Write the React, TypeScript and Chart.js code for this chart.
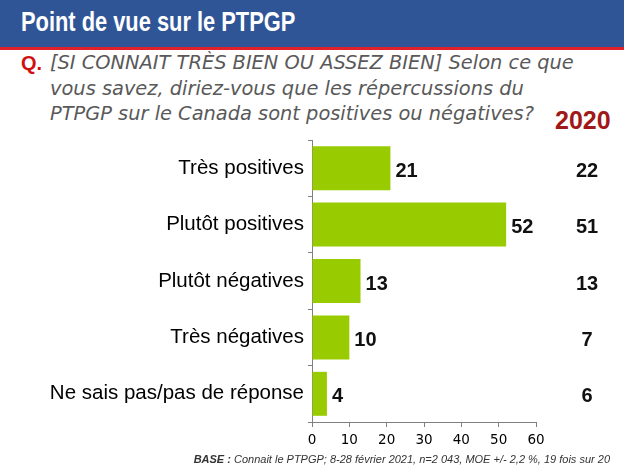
import React, { useEffect, useRef } from "react";
import { Chart, registerables } from "chart.js";

Chart.register(...registerables);

const categories = [
  "Très positives",
  "Plutôt positives",
  "Plutôt négatives",
  "Très négatives",
  "Ne sais pas/pas de réponse",
];
const values2021 = [21, 52, 13, 10, 4];
const values2020 = [22, 51, 13, 7, 6];
const xTicks = [0, 10, 20, 30, 40, 50, 60];

const titleText = "Point de vue sur le PTPGP";
const questionLines = [
  "[SI CONNAIT TRÈS BIEN OU ASSEZ BIEN] Selon ce que",
  "vous savez, diriez-vous que les répercussions du",
  "PTPGP sur le Canada sont positives ou négatives?",
];
const yearLabel = "2020";
const baseBold = "BASE :";
const baseText = " Connait le PTPGP; 8-28 février 2021, n=2 043, MOE +/- 2,2 %, 19 fois sur 20";

export default function App() {
  const canvasRef = useRef<HTMLCanvasElement | null>(null);

  useEffect(() => {
    document.body.style.margin = "0";
    const canvas = canvasRef.current;
    if (!canvas) return;

    const labelPlugin = {
      id: "valueLabels",
      afterDatasetsDraw(chart: any) {
        const ctx = chart.ctx;
        const meta = chart.getDatasetMeta(0);
        ctx.save();
        ctx.font = "bold 20px 'Liberation Sans', Arial, sans-serif";
        ctx.fillStyle = "#111";
        ctx.textBaseline = "middle";
        meta.data.forEach((bar: any, i: number) => {
          ctx.textAlign = "left";
          ctx.fillText(String(values2021[i]), bar.x + 5, bar.y + 3);
          ctx.textAlign = "center";
          ctx.fillText(String(values2020[i]), 587, bar.y + 3);
        });
        ctx.restore();
      },
    };

    const chart = new Chart(canvas, {
      type: "bar",
      data: {
        labels: categories,
        datasets: [
          {
            data: values2021,
            backgroundColor: "#99CC00",
            barPercentage: 0.78,
            categoryPercentage: 1,
          },
        ],
      },
      options: {
        indexAxis: "y",
        responsive: false,
        animation: false,
        layout: { padding: { top: 140, right: 88, left: 0, bottom: 0 } },
        plugins: { legend: { display: false }, tooltip: { enabled: false } },
        scales: {
          x: {
            min: 0,
            max: 60,
            afterBuildTicks(scale: any) {
              scale.ticks = xTicks.map((v) => ({ value: v }));
            },
            ticks: {
              font: { size: 13.5, family: "'DejaVu Sans', sans-serif" },
              color: "#000",
              padding: 5,
              maxRotation: 0,
            },
            grid: {
              display: true,
              drawOnChartArea: false,
              drawTicks: true,
              tickLength: 5,
              color: "#808080",
            },
            border: { color: "#808080" },
            afterFit(scale: any) {
              scale.height = 46;
            },
          },
          y: {
            ticks: {
              font: { size: 20.5, family: "'Liberation Sans', Arial, sans-serif" },
              color: "#000",
              padding: 4,
            },
            grid: {
              display: true,
              drawOnChartArea: false,
              drawTicks: true,
              tickLength: 4,
              color: "#808080",
              offset: true,
            },
            border: { color: "#808080" },
            afterFit(scale: any) {
              scale.width = 312;
            },
          },
        },
      },
      plugins: [labelPlugin],
    });

    return () => chart.destroy();
  }, []);

  const qFont = "'DejaVu Sans', sans-serif";

  return (
    <div
      style={{
        position: "absolute",
        left: 0,
        top: 0,
        width: 624,
        height: 468,
        background: "#fff",
        overflow: "hidden",
      }}
    >
      <div
        style={{
          position: "absolute",
          left: 0,
          top: 0,
          width: 624,
          height: 47,
          background: "#2F5597",
        }}
      />
      <div
        style={{
          position: "absolute",
          left: 0,
          top: 47,
          width: 624,
          height: 3,
          background: "#E0202A",
        }}
      />
      <div
        style={{
          position: "absolute",
          left: 21,
          top: 5,
          color: "#fff",
          fontFamily: "'Liberation Sans', Arial, sans-serif",
          fontWeight: "bold",
          fontSize: 28,
          whiteSpace: "nowrap",
          lineHeight: "34px",
          transform: "scaleX(0.78)",
          transformOrigin: "left center",
        }}
      >
        {titleText}
      </div>
      <div
        style={{
          position: "absolute",
          left: 21,
          top: 51,
          color: "#D01010",
          fontFamily: "'Liberation Sans', Arial, sans-serif",
          fontWeight: "bold",
          fontSize: 20,
          lineHeight: "25px",
        }}
      >
        Q.
      </div>
      {questionLines.map((line, i) => (
        <div
          key={i}
          style={{
            position: "absolute",
            left: 50,
            top: 50 + i * 25.5,
            color: "#595959",
            fontFamily: qFont,
            fontStyle: "italic",
            fontSize: 19.4,
            lineHeight: "25px",
            whiteSpace: "nowrap",
          }}
        >
          {line}
        </div>
      ))}
      <div
        style={{
          position: "absolute",
          left: 555,
          top: 106,
          color: "#A01818",
          fontFamily: "'Liberation Sans', Arial, sans-serif",
          fontWeight: "bold",
          fontSize: 25,
          lineHeight: "28px",
          whiteSpace: "nowrap",
        }}
      >
        {yearLabel}
      </div>
      <canvas
        ref={canvasRef}
        width={624}
        height={468}
        style={{ position: "absolute", left: 0, top: 0, width: 624, height: 468 }}
      />
      <div
        style={{
          position: "absolute",
          right: 14,
          top: 451,
          color: "#333",
          fontFamily: "'Liberation Sans', Arial, sans-serif",
          fontStyle: "italic",
          fontSize: 11,
          lineHeight: "16px",
          whiteSpace: "nowrap",
        }}
      >
        <b>{baseBold}</b>
        {baseText}
      </div>
    </div>
  );
}
